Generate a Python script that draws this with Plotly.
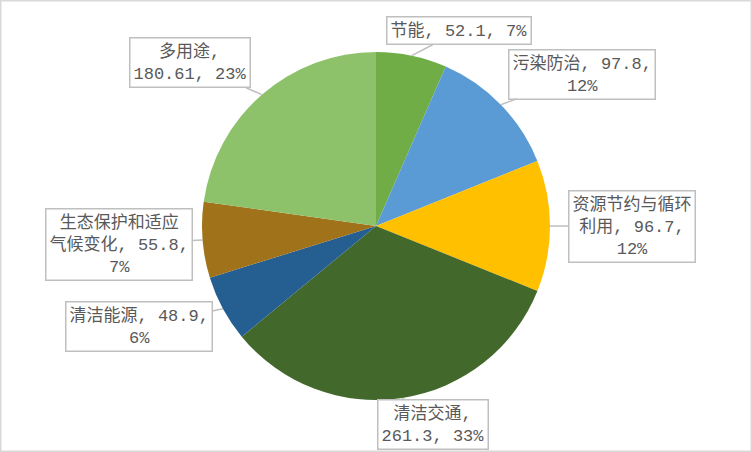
import math
import plotly.graph_objects as go

# data
labels = ["节能", "污染防治", "资源节约与循环利用", "清洁交通", "清洁能源", "生态保护和适应气候变化", "多用途"]
values = [52.1, 97.8, 96.7, 261.3, 48.9, 55.8, 180.61]
# how the callout text wraps: label with its own breaks, and where the line breaks go
shown_labels = ["节能", "污染防治", "资源节约与循环<br>利用", "清洁交通", "清洁能源", "生态保护和适应<br>气候变化", "多用途"]
break_after = [0, 2, 2, 1, 2, 2, 1]  # 0 none, 1 after label, 2 after value

colors = ["#70AD47", "#5B9BD5", "#FFC000", "#43682B", "#255E91", "#A0721A", "#8DC26A"]
# callout box centres in pixels
box_pos = [(459, 31), (582, 74), (632, 226), (433, 424), (139, 326), (119, 244), (190, 63)]

W, H = 752, 452
cx, cy, R = 376, 226, 174

fig = go.Figure(go.Pie(
    labels=labels, values=values, sort=False, direction="clockwise", rotation=0,
    marker=dict(colors=colors, line=dict(width=0)),
    textinfo="none", hoverinfo="label+value+percent", showlegend=False,
    domain=dict(x=[(cx - R) / W, (cx + R) / W], y=[1 - (cy + R) / H, 1 - (cy - R) / H]),
))

total = sum(values)
cum = 0
for i, v in enumerate(values):
    mid = (cum + v / 2) / total * 2 * math.pi
    cum += v
    tx = cx + R * math.sin(mid)
    ty = cy - R * math.cos(mid)
    pct = round(v / total * 100)
    if break_after[i] == 0:
        txt = f"{shown_labels[i]}, {v}, {pct}%"
    elif break_after[i] == 1:
        txt = f"{shown_labels[i]},<br>{v}, {pct}%"
    else:
        txt = f"{shown_labels[i]}, {v},<br>{pct}%"
    bx, by = box_pos[i]
    fig.add_annotation(
        x=tx / W, y=1 - ty / H, xref="paper", yref="paper",
        ax=bx - tx, ay=by - ty, axref="pixel", ayref="pixel",
        text=txt, showarrow=True, arrowhead=0, arrowwidth=1.5, arrowcolor="#BFBFBF",
        standoff=0, bordercolor="#BFBFBF", borderwidth=1.5, borderpad=3,
        bgcolor="white", font=dict(size=17, color="#595959", family="Liberation Mono, Noto Sans CJK SC"),
        align="center",
    )

fig.add_shape(type="rect", xref="paper", yref="paper", x0=0, y0=0, x1=1, y1=1,
              line=dict(color="#D9D9D9", width=3))

fig.update_layout(
    width=W, height=H, margin=dict(l=0, r=0, t=0, b=0),
    paper_bgcolor="white", plot_bgcolor="white",
)

fig.write_html("out.html", config={"displayModeBar": False},
               post_script="document.body.style.margin='0';")
